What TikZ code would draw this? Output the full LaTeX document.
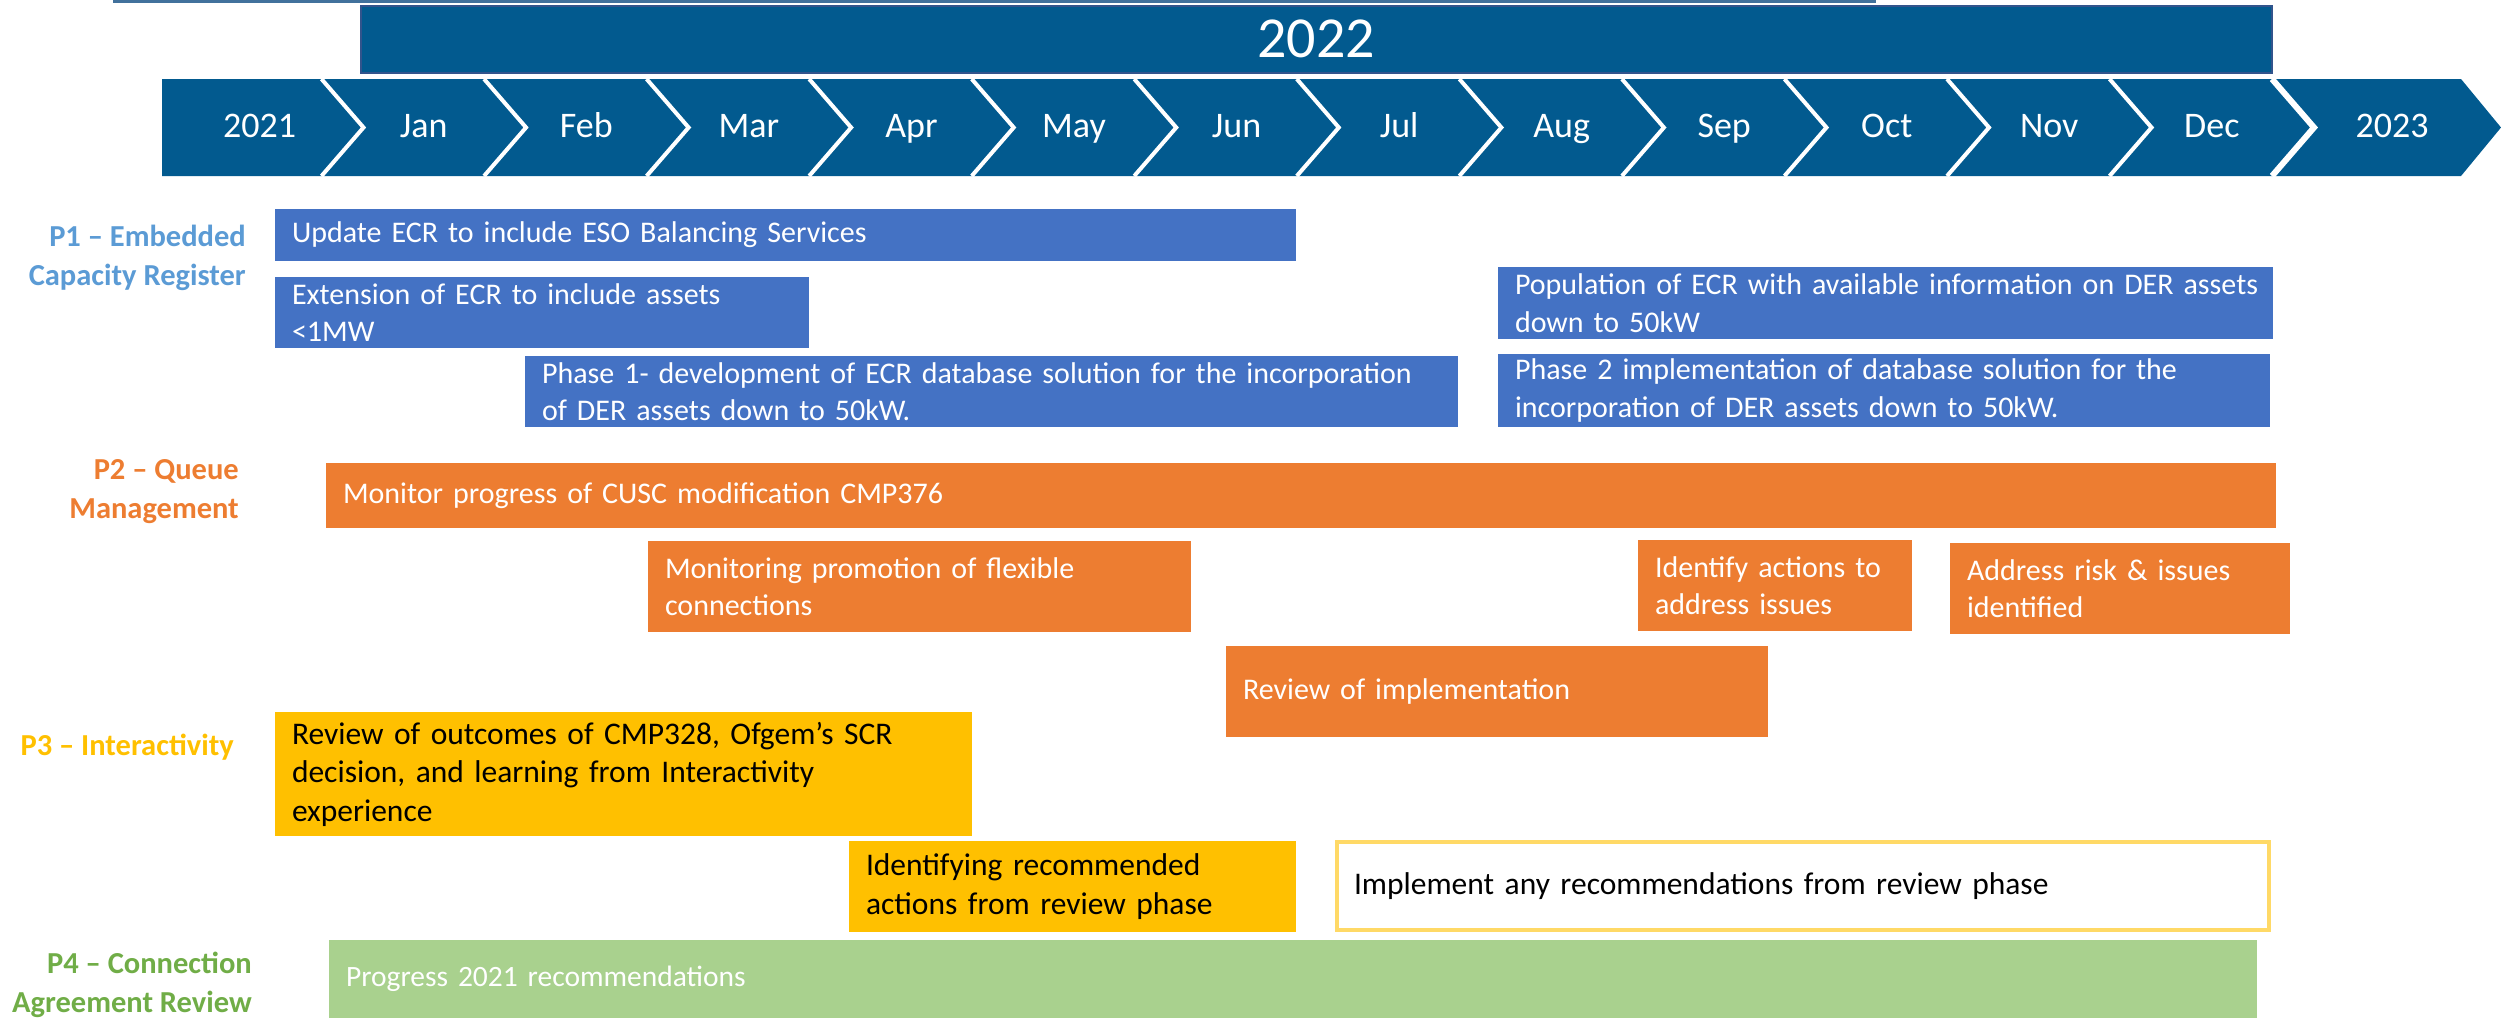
\documentclass[tikz,border=0pt]{standalone}
\usepackage{fontspec}
\setmainfont{Carlito}
\definecolor{bandc}{RGB}{2,90,143}
\definecolor{yearline}{RGB}{50,84,140}
\definecolor{topline}{RGB}{65,113,156}
\definecolor{p1fill}{RGB}{68,114,196}
\definecolor{p2fill}{RGB}{237,125,49}
\definecolor{p3fill}{RGB}{255,192,0}
\definecolor{p3line}{RGB}{255,217,102}
\definecolor{p4fill}{RGB}{169,209,142}
\definecolor{p1lab}{RGB}{91,155,213}
\definecolor{p2lab}{RGB}{237,125,49}
\definecolor{p3lab}{RGB}{255,192,0}
\definecolor{p4lab}{RGB}{112,173,71}
\newcommand\ganttbox[7]{%
  \pgfmathsetmacro\gbw{#5-#3}\pgfmathsetmacro\gbh{#6-#4}\pgfmathsetmacro\gbt{#5-#3-34}%
  \node[#2, minimum width=\gbw pt, minimum height=\gbh pt, text width=\gbt pt] (#1) at (#3,#4) {#7};}
\begin{document}
\begin{tikzpicture}[x=1pt,y=-1pt,
  task/.style={anchor=north west, inner xsep=17pt, inner ysep=0pt, outer sep=0pt, align=left,
    font=\fontsize{30}{37.5}\selectfont},
  bluebar/.style={task, fill=p1fill, text=white},
  orangebar/.style={task, fill=p2fill, text=white},
  goldbar/.style={task, fill=p3fill, text=black, font=\fontsize{31.5}{38.5}\selectfont},
  goldframe/.style={task, draw=p3line, line width=3.5pt, fill=white, text=black,
    font=\fontsize{31.5}{38.5}\selectfont},
  greenbar/.style={task, fill=p4fill, text=white, font=\fontsize{29.5}{36}\selectfont},
  rowlab/.style={anchor=base east, align=right, inner sep=0pt,
    font=\fontsize{30.5}{38.5}\selectfont\bfseries},
  mon/.style={anchor=base, text=white, inner sep=0pt, font=\fontsize{36}{40}\selectfont},
  sep/.style={draw=white, line width=4pt}
]
\useasboundingbox (0,0) rectangle (2501,1020);
% top rule
\draw[topline, line width=3pt] (113,1) -- (1876,1);
% 2022 banner
\node[anchor=north west, fill=bandc, draw=yearline, line width=1.5pt, minimum width=1911pt,
  minimum height=67pt, inner sep=0pt, text=white, font=\fontsize{58}{60}\selectfont]
  (y2022) at (360,5) {2022};
% chevron band
\fill[bandc] (162,79) -- (2461,79) -- (2501,127.5) -- (2461,176) -- (162,176) -- cycle;
\foreach \k in {0,...,11}
  \draw[sep] ({321.5+162.55*\k},79) -- ({363.5+162.55*\k},127.5) -- ({321.5+162.55*\k},176);
\draw[sep, line width=6pt] (2272,79) -- (2314,127.5) -- (2272,176);
\node[mon] (m0) at (259.5,137) {2021};
\foreach \t [count=\i from 1] in {Jan,Feb,Mar,Apr,May,Jun,Jul,Aug,Sep,Oct,Nov,Dec}
  \node[mon] (m\i) at ({321.5+162.55*(\i-1)+102.3},137) {\t};
\node[mon] (m13) at (2392,137) {2023};
% row labels (anchored at the baseline of the last line)
\node[rowlab, text=p1lab] (l1) at (246,285) {P1 – Embedded\\Capacity Register};
\node[rowlab, text=p2lab] (l2) at (239,518) {P2 – Queue\\Management};
\node[rowlab, text=p3lab] (l3) at (234,755) {P3 – Interactivity};
\node[rowlab, text=p4lab] (l4) at (252,1012) {P4 – Connection\\Agreement Review};
% P1
\ganttbox{b1}{bluebar}{275}{209}{1296}{261}{Update ECR to include ESO Balancing Services}
\ganttbox{b2}{bluebar}{275}{277}{809}{348}{Extension of ECR to include assets\\<1MW}
\ganttbox{b3}{bluebar}{525}{356}{1458}{427}{\mbox{Phase 1- development of ECR database solution for the incorporation}\\of DER assets down to 50kW.}
\ganttbox{b4}{bluebar}{1498}{267}{2273}{339}{\mbox{Population of ECR with available information on DER assets}\\down to 50kW}
\ganttbox{b5}{bluebar}{1498}{354}{2270}{427}{\mbox{Phase 2 implementation of database solution for the}\\incorporation of DER assets down to 50kW.}
% P2
\ganttbox{o1}{orangebar}{326}{463}{2276}{528}{Monitor progress of CUSC modification CMP376}
\ganttbox{o2}{orangebar}{648}{541}{1191}{632}{Monitoring promotion of flexible\\connections}
\ganttbox{o3}{orangebar}{1638}{540}{1912}{631}{\mbox{Identify actions to}\\address issues}
\ganttbox{o4}{orangebar}{1950}{543}{2290}{634}{\mbox{Address risk \& issues}\\identified}
\ganttbox{o5}{orangebar}{1226}{646}{1768}{737}{Review of implementation}
% P3
\ganttbox{y1}{goldbar}{275}{712}{972}{836}{\mbox{Review of outcomes of CMP328, Ofgem’s SCR}\\\mbox{decision, and learning from Interactivity}\\experience}
\ganttbox{y2}{goldbar}{849}{841}{1296}{932}{\mbox{Identifying recommended}\\\mbox{actions from review phase}}
\ganttbox{y3}{goldframe}{1337}{842}{2269}{930}{Implement any recommendations from review phase}
% P4
\ganttbox{g1}{greenbar}{329}{940}{2257}{1018}{Progress 2021 recommendations}
\end{tikzpicture}
\end{document}
